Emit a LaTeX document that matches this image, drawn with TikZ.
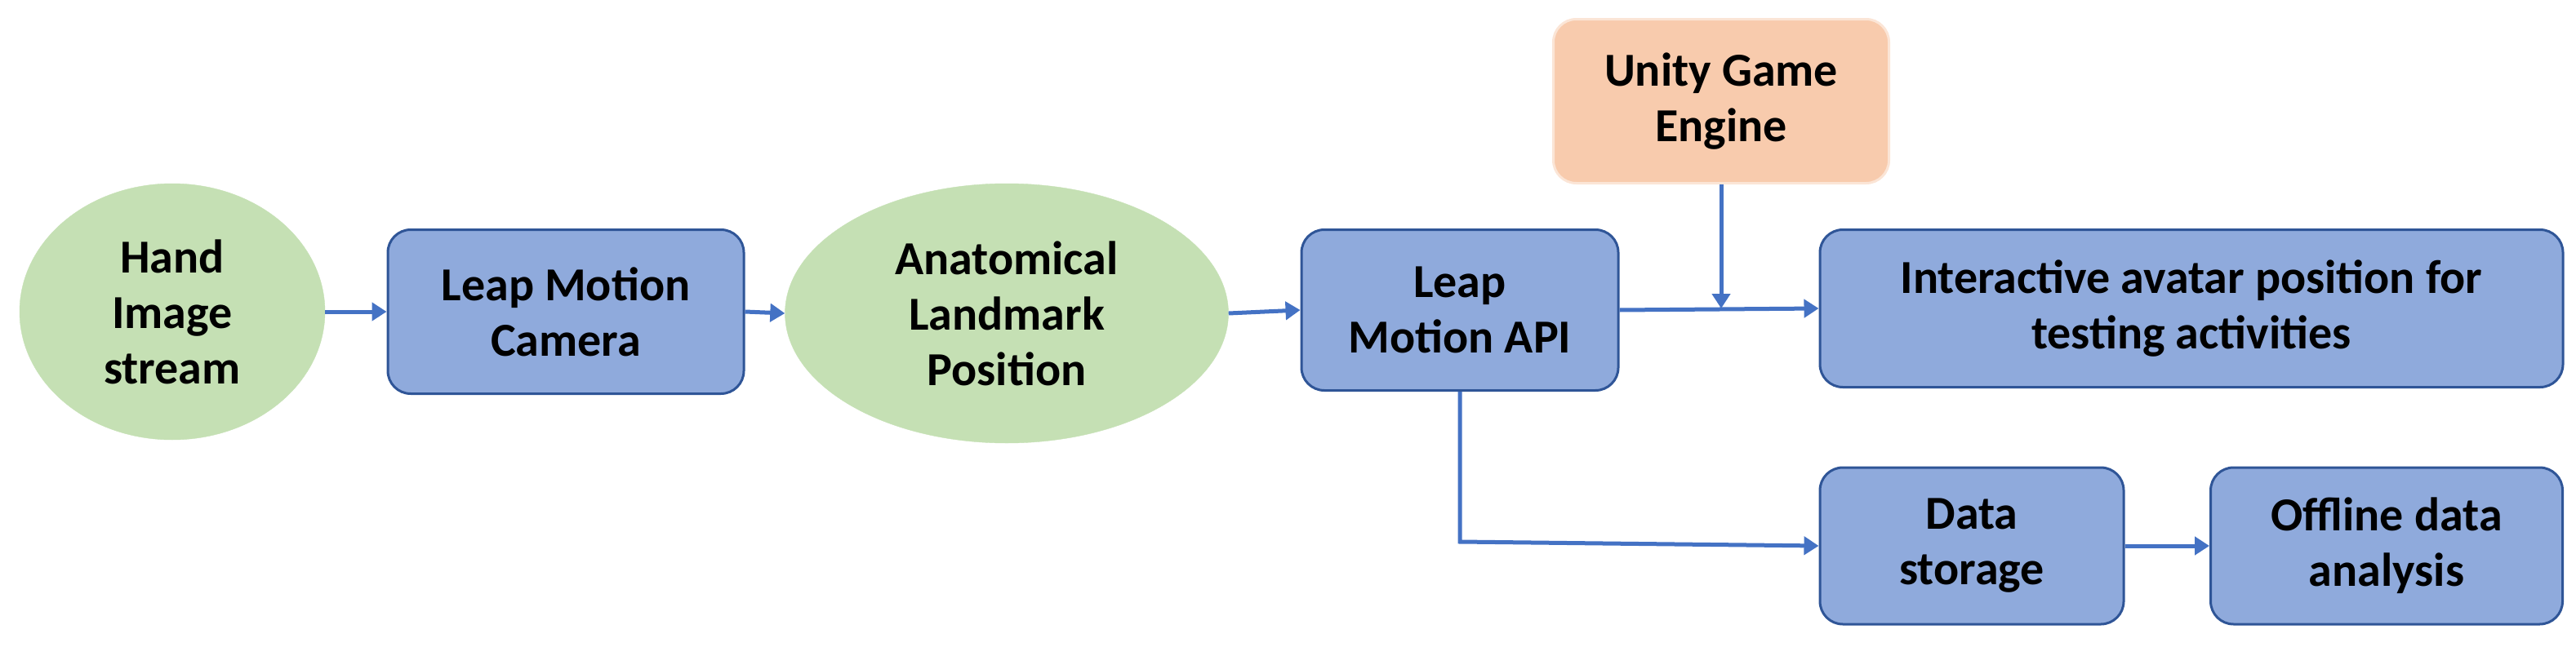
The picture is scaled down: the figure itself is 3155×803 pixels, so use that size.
\documentclass[tikz,border=0pt]{standalone}
\usepackage{fontspec}
\setmainfont{Carlito}
\usetikzlibrary{shapes.geometric,arrows.meta}
\definecolor{gfill}{HTML}{C5E0B4}
\definecolor{bfill}{HTML}{8FAADC}
\definecolor{bline}{HTML}{2F5597}
\definecolor{ofill}{HTML}{F8CBAD}
\definecolor{oline}{HTML}{FBE5D6}
\definecolor{arr}{HTML}{4472C4}
\begin{document}
\begin{tikzpicture}[x=1pt,y=-1pt,
 txt/.style={font=\fontsize{58}{68}\selectfont\bfseries,align=center,text=black},
 ell/.style={txt,ellipse,fill=gfill,draw=gfill,inner sep=0},
 box/.style={txt,rectangle,rounded corners=28pt,fill=bfill,draw=bline,line width=3pt,inner sep=0},
 ar/.style={draw=arr,line width=5pt,-{Triangle[length=18pt,width=22pt]}}]
\useasboundingbox (0,0) rectangle (3155,803);
\node[ell,minimum width=374,minimum height=314] (hand) at (211,382) {Hand\\Image\\stream};
\node[box,minimum width=436,minimum height=201] (cam) at (693,382) {Leap Motion\\Camera};
\node[ell,minimum width=543,minimum height=318] (anat) at (1233,384) {Anatomical\\Landmark\\Position};
\node[box,minimum width=388,minimum height=197] (api) at (1788,380) {Leap\\Motion API};
\node[box,fill=ofill,draw=oline,minimum width=411,minimum height=201] (unity) at (2108,124) {Unity Game\\Engine};
\node[box,minimum width=910,minimum height=193] (inter) at (2684,378) {Interactive avatar position for\\testing activities};
\node[box,minimum width=372,minimum height=192] (data) at (2415,669) {Data\\storage};
\node[box,minimum width=431,minimum height=192] (off) at (2923,669) {Offline data\\analysis};
\draw[ar] (hand.east) -- (cam.west);
\draw[ar] (cam.east) -- (anat.west);
\draw[ar] (anat.east) -- (api.west);
\draw[ar] (api.east) -- (inter.west);
\coordinate (uj) at (unity.south |- inter.west);
\draw[ar] (unity.south) -- (uj);
\coordinate (dc) at (1788,664);
\draw[ar] (api.south) -- (dc) -- (data.west);
\draw[ar] (data.east) -- (off.west);
\end{tikzpicture}
\end{document}
